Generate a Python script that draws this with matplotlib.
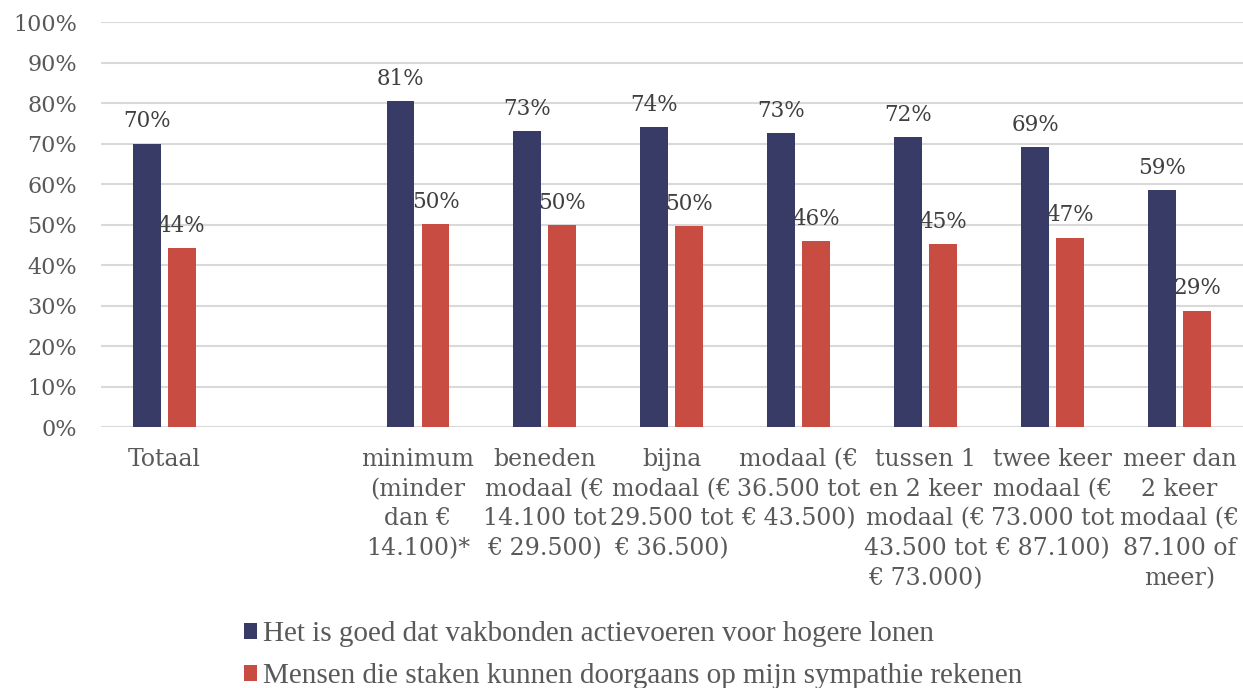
import matplotlib
matplotlib.use('Agg')
import matplotlib.pyplot as plt
import numpy as np

categories = [
    'Totaal',
    '',
    'minimum\n(minder\ndan €\n14.100)*',
    'beneden\nmodaal (€\n14.100 tot\n€ 29.500)',
    'bijna\nmodaal (€\n29.500 tot\n€ 36.500)',
    'modaal (€\n36.500 tot\n€ 43.500)',
    'tussen 1\nen 2 keer\nmodaal (€\n43.500 tot\n€ 73.000)',
    'twee keer\nmodaal (€\n73.000 tot\n€ 87.100)',
    'meer dan\n2 keer\nmodaal (€\n87.100 of\nmeer)',
]
series_names = [
    'Het is goed dat vakbonden actievoeren voor hogere lonen',
    'Mensen die staken kunnen doorgaans op mijn sympathie rekenen',
]
vakbonden = [70, None, 80.6, 73.0, 74.0, 72.6, 71.7, 69.2, 58.6]
staken = [44.3, None, 50.2, 50.0, 49.6, 46.0, 45.1, 46.8, 28.8]

colors = ['#393b67', '#c94c43']
text_color = '#595959'
font = 'DejaVu Serif'

fig = plt.figure(figsize=(12.43, 6.88), dpi=100)
ax = fig.add_axes([0.081, 0.379, 0.919, 0.589])

x = np.arange(len(categories))
width = 0.22
offset = 0.138

for vals, off, color, name in [(vakbonden, -offset, colors[0], series_names[0]),
                               (staken, offset, colors[1], series_names[1])]:
    xs = [xi + off for xi, v in zip(x, vals) if v is not None]
    ys = [v for v in vals if v is not None]
    ax.bar(xs, ys, width, color=color, label=name, zorder=3)
    for xi, v in zip(xs, ys):
        ax.annotate(f'{round(v)}%', (xi, v), xytext=(0, 8), textcoords='offset points',
                    ha='center', va='bottom', fontsize=15.5, color='#404040', family=font)

ax.set_xlim(-0.5, len(categories) - 0.5)
ax.set_ylim(0, 100)
ax.set_yticks(range(0, 101, 10))
ax.set_yticklabels([f'{t}%' for t in range(0, 101, 10)], family=font, fontsize=16, color=text_color)
ax.set_xticks(x)
ax.set_xticklabels(categories, family=font, fontsize=17, color=text_color, linespacing=1.37)
ax.tick_params(axis='both', length=0)
ax.tick_params(axis='y', pad=17)
ax.tick_params(axis='x', pad=15)
ax.grid(axis='y', color='#d9d9d9', linewidth=1.5, zorder=0)
for s in ax.spines.values():
    s.set_visible(False)

fig.legend(loc='upper left', bbox_to_anchor=(0.196, 0.097), frameon=False,
           prop={'family': 'Liberation Serif', 'size': 21}, labelcolor=text_color,
           handlelength=0.45, handleheight=0.45, handletextpad=0.2, labelspacing=0.55,
           borderpad=0, borderaxespad=0)

fig.savefig('out.png', dpi=100)
